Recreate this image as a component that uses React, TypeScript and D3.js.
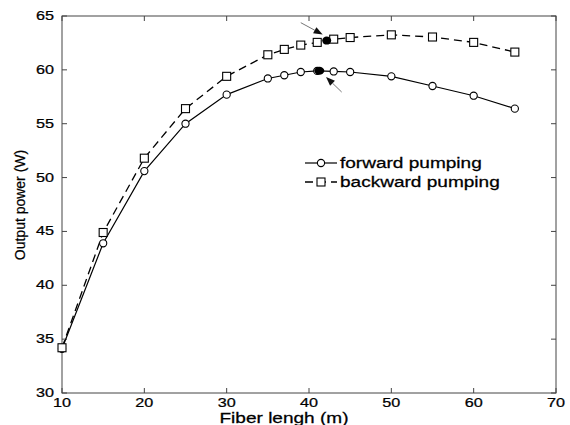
import React from "react";
import * as d3 from "d3";

const fiberLength = [10, 15, 20, 25, 30, 35, 37, 39, 41, 43, 45, 50, 55, 60, 65];
const forwardPower = [34.1, 43.9, 50.6, 55.0, 57.7, 59.2, 59.5, 59.8, 59.9, 59.85, 59.8, 59.4, 58.5, 57.6, 56.4];
const backwardPower = [34.2, 44.9, 51.8, 56.4, 59.4, 61.4, 61.9, 62.3, 62.55, 62.85, 63.0, 63.25, 63.05, 62.55, 61.65];
const seriesNames = ["forward pumping", "backward pumping"];
const xTicks = [10, 20, 30, 40, 50, 60, 70];
const yTicks = [30, 35, 40, 45, 50, 55, 60, 65];
const peakForward = [41.25, 59.92];
const peakBackward = [42.15, 62.72];
const arrowUpper = [[39.0, 64.38], [41.66, 63.28]];
const arrowLower = [[43.97, 57.94], [42.07, 59.34]];

const W = 570, H = 425;
const FONT = "'Liberation Sans', Arial, Helvetica, sans-serif";
const SX = 1.2;

function SText({ x, y, size, anchor = "start", rotate = 0, sx = SX, children }: any) {
  return (
    <text
      transform={`translate(${x},${y}) scale(${sx},1) rotate(${rotate})`}
      fontFamily={FONT}
      fontSize={size}
      textAnchor={anchor}
      fill="#000"
      stroke="#000"
      strokeWidth={0.25}
    >
      {children}
    </text>
  );
}

export default function App() {
  const x = d3.scaleLinear().domain([10, 70]).range([62, 556]);
  const y = d3.scaleLinear().domain([30, 65]).range([393, 16]);
  const left = x(10), right = x(70), top = y(65), bottom = y(30);

  const line = d3.line<number>().x((_, i) => x(fiberLength[i])).y((d) => y(d));
  const fwdPath = line(forwardPower) || "";
  const bwdPath = line(backwardPower) || "";

  const tick = 5;
  const axisColor = "#444";

  const arrow = (a: number[][], key: string) => {
    const [x1, y1] = [x(a[0][0]), y(a[0][1])];
    const [x2, y2] = [x(a[1][0]), y(a[1][1])];
    const ang = Math.atan2(y2 - y1, x2 - x1);
    const L = 9, Wd = 3.5;
    const bx = x2 - L * Math.cos(ang), by = y2 - L * Math.sin(ang);
    const px = -Math.sin(ang) * Wd, py = Math.cos(ang) * Wd;
    return (
      <g key={key}>
        <line x1={x1} y1={y1} x2={bx} y2={by} stroke="#666" strokeWidth={0.9} />
        <path d={`M${x2},${y2}L${bx + px},${by + py}L${bx - px},${by - py}Z`} fill="#111" />
      </g>
    );
  };

  const square = (cx: number, cy: number, s: number, key: any) => (
    <rect key={key} x={cx - s / 2} y={cy - s / 2} width={s} height={s} fill="#fff" stroke="#000" strokeWidth={1.1} />
  );

  return (
    <svg width={W} height={H} style={{ position: "absolute", left: 0, top: 0, background: "#fff" }}>
      <rect x={0} y={0} width={W} height={H} fill="#fff" />
      <rect x={left} y={top} width={right - left} height={bottom - top} fill="none" stroke={axisColor} strokeWidth={1} />
      {xTicks.map((t) => (
        <g key={"xt" + t}>
          <line x1={x(t)} x2={x(t)} y1={bottom} y2={bottom - tick} stroke={axisColor} />
          <line x1={x(t)} x2={x(t)} y1={top} y2={top + tick} stroke={axisColor} />
          <SText x={x(t)} y={bottom + 14} size={13.5} anchor="middle">{t}</SText>
        </g>
      ))}
      {yTicks.map((t) => (
        <g key={"yt" + t}>
          <line x1={left} x2={left + tick} y1={y(t)} y2={y(t)} stroke={axisColor} />
          <line x1={right} x2={right - tick} y1={y(t)} y2={y(t)} stroke={axisColor} />
          <SText x={left - 8} y={y(t) + 4} size={13.5} anchor="end">{t}</SText>
        </g>
      ))}
      <SText x={284} y={bottom + 30} size={14} sx={1.36} anchor="middle">Fiber lengh (m)</SText>
      <text
        transform={`translate(25,205) scale(1.1,1) rotate(-90)`}
        fontFamily={FONT}
        fontSize={14}
        textAnchor="middle"
        fill="#000"
        stroke="#000"
        strokeWidth={0.2}
      >
        Output power (W)
      </text>

      <path d={bwdPath} fill="none" stroke="#000" strokeWidth={1.3} strokeDasharray="8,5" />
      <path d={fwdPath} fill="none" stroke="#000" strokeWidth={1.2} />
      {forwardPower.map((v, i) => (
        <circle key={"fc" + i} cx={x(fiberLength[i])} cy={y(v)} r={3.6} fill="#fff" stroke="#000" strokeWidth={1.1} />
      ))}
      {backwardPower.map((v, i) => square(x(fiberLength[i]), y(v), 8, "bs" + i))}
      <ellipse cx={x(peakForward[0])} cy={y(peakForward[1])} rx={5} ry={4} fill="#000" />
      <ellipse cx={x(peakBackward[0])} cy={y(peakBackward[1])} rx={4.5} ry={4} fill="#000" />

      {arrow(arrowUpper, "a1")}
      {arrow(arrowLower, "a2")}

      <g>
        <line x1={305} x2={337} y1={163} y2={163} stroke="#000" strokeWidth={1.2} />
        <circle cx={321} cy={163} r={3.6} fill="#fff" stroke="#000" strokeWidth={1.1} />
        <SText x={340} y={168} size={14} sx={1.36}>{seriesNames[0]}</SText>
        <line x1={305} x2={337} y1={182} y2={182} stroke="#000" strokeWidth={1.3} strokeDasharray="8,5" />
        {square(321, 182, 8, "lsq")}
        <SText x={340} y={187} size={14} sx={1.36}>{seriesNames[1]}</SText>
      </g>
    </svg>
  );
}
